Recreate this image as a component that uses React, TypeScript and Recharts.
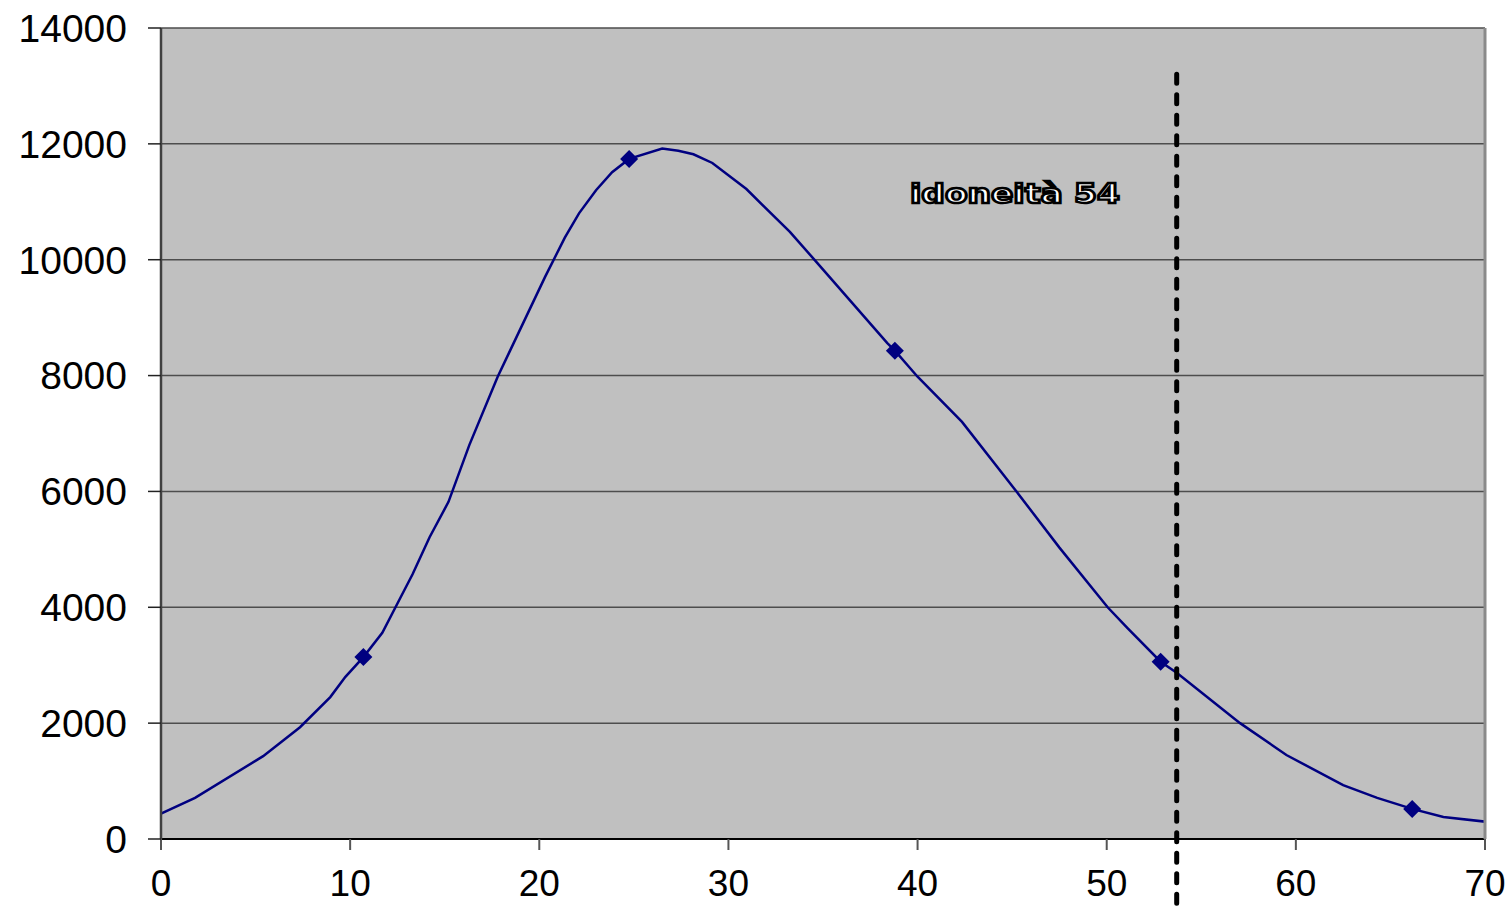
import { ComposedChart, Line, Scatter, XAxis, YAxis, CartesianGrid, ReferenceLine, ReferenceDot } from 'recharts';

// curve of the distribution
const curveX = [-0.4, 1.8, 5.4, 7.35, 8.95, 9.75, 10.7, 11.7, 12.65, 13.3, 14.2, 15.2, 16.3, 17.8, 20.3, 21.35, 22.1, 23.0, 23.85, 24.75, 26.5, 27.35, 28.15, 29.15, 30.95, 33.25, 34.6, 38.4, 38.8, 40.0, 42.35, 45.25, 47.5, 50.05, 51.1, 52.85, 53.7, 57.05, 59.5, 62.5, 64.3, 66.15, 67.8, 70.55];
const curveY = [380, 710, 1430, 1930, 2450, 2800, 3140, 3560, 4160, 4570, 5210, 5820, 6800, 7980, 9700, 10380, 10800, 11200, 11510, 11740, 11920, 11880, 11820, 11670, 11220, 10480, 9980, 8560, 8430, 7980, 7200, 5990, 5030, 4000, 3640, 3060, 2870, 2000, 1450, 930, 710, 520, 380, 280];

// diamond markers
const markerX = [10.7, 24.75, 38.8, 52.85, 66.15];
const markerY = [3140, 11740, 8430, 3060, 520];

const xTicks = [0, 10, 20, 30, 40, 50, 60, 70];
const xMinorTicks = [0, 5, 10, 15, 20, 25, 30, 35, 40, 45, 50, 55, 60, 65, 70];
const yTicks = [0, 2000, 4000, 6000, 8000, 10000, 12000, 14000];

const threshold = 53.7;
const thresholdLabel = 'idoneità 54';

const curveData = curveX.map((x, i) => ({ x, y: curveY[i] }));
const markerData = markerX.map((x, i) => ({ x, y: markerY[i] }));

const font = '"Liberation Sans", Arial, sans-serif';

const Diamond = ({ cx, cy }: any) => (
  <polygon
    points={`${cx},${cy - 9} ${cx + 9},${cy} ${cx},${cy + 9} ${cx - 9},${cy}`}
    fill='#000080'
  />
);

const renderThresholdLabel = ({ viewBox }: any) => (
  <text
    x={viewBox.x}
    y={viewBox.y}
    fontFamily='"DejaVu Sans", sans-serif'
    fontWeight='bold'
    fontSize={26}
    textLength={210}
    lengthAdjust='spacingAndGlyphs'
    fill='#fff'
    stroke='#000'
    strokeWidth={2.4}
  >{thresholdLabel}</text>
);

export default function App() {
  return (
    <div style={{ position: 'absolute', left: 0, top: 0 }}>
      <ComposedChart
        width={1512}
        height={908}
        margin={{ top: 28, right: 27, bottom: 0, left: 0 }}
      >
        <CartesianGrid vertical={false} stroke='#4d4d4d' strokeWidth={1.5} fill='#c0c0c0' fillOpacity={1} />
        <XAxis
          dataKey='x'
          type='number'
          domain={[0, 70]}
          allowDataOverflow
          ticks={xTicks}
          interval={0}
          height={69}
          tickSize={11}
          tickMargin={20}
          axisLine={{ stroke: '#000', strokeWidth: 2 }}
          tickLine={{ stroke: '#555', strokeWidth: 2 }}
          tick={{ fill: '#000', fontSize: 37, fontFamily: font }}
        />
        <XAxis
          xAxisId='minor'
          dataKey='x'
          type='number'
          domain={[0, 70]}
          allowDataOverflow
          ticks={xMinorTicks}
          interval={0}
          mirror
          tickSize={9}
          tick={false}
          axisLine={false}
          tickLine={{ stroke: '#333', strokeWidth: 2 }}
        />
        <YAxis
          type='number'
          domain={[0, 14000]}
          ticks={yTicks}
          interval={0}
          width={161}
          tickSize={13}
          tickMargin={21}
          axisLine={{ stroke: '#404040', strokeWidth: 2.5 }}
          tickLine={{ stroke: '#222', strokeWidth: 1.5 }}
          tick={{ fill: '#000', fontSize: 39, fontFamily: font }}
        />
        <YAxis
          yAxisId='right'
          orientation='right'
          type='number'
          domain={[0, 14000]}
          mirror
          tick={false}
          tickLine={false}
          axisLine={{ stroke: '#8a8a8a', strokeWidth: 3 }}
        />
        <Line
          data={curveData}
          dataKey='y'
          type='linear'
          stroke='#000080'
          strokeWidth={2.5}
          dot={false}
          activeDot={false}
          isAnimationActive={false}
        />
        <Scatter
          data={markerData}
          dataKey='y'
          shape={Diamond}
          isAnimationActive={false}
        />
        <ReferenceLine
          segment={[{ x: threshold, y: 13200 }, { x: threshold, y: -1300 }]}
          ifOverflow='visible'
          stroke='#000'
          strokeWidth={5}
          strokeDasharray='9 11.5'
          strokeLinecap='round'
        />
        <ReferenceDot
          x={39.6}
          y={10980}
          r={0}
          fill='none'
          stroke='none'
          ifOverflow='visible'
          label={renderThresholdLabel}
        />
      </ComposedChart>
    </div>
  );
}
